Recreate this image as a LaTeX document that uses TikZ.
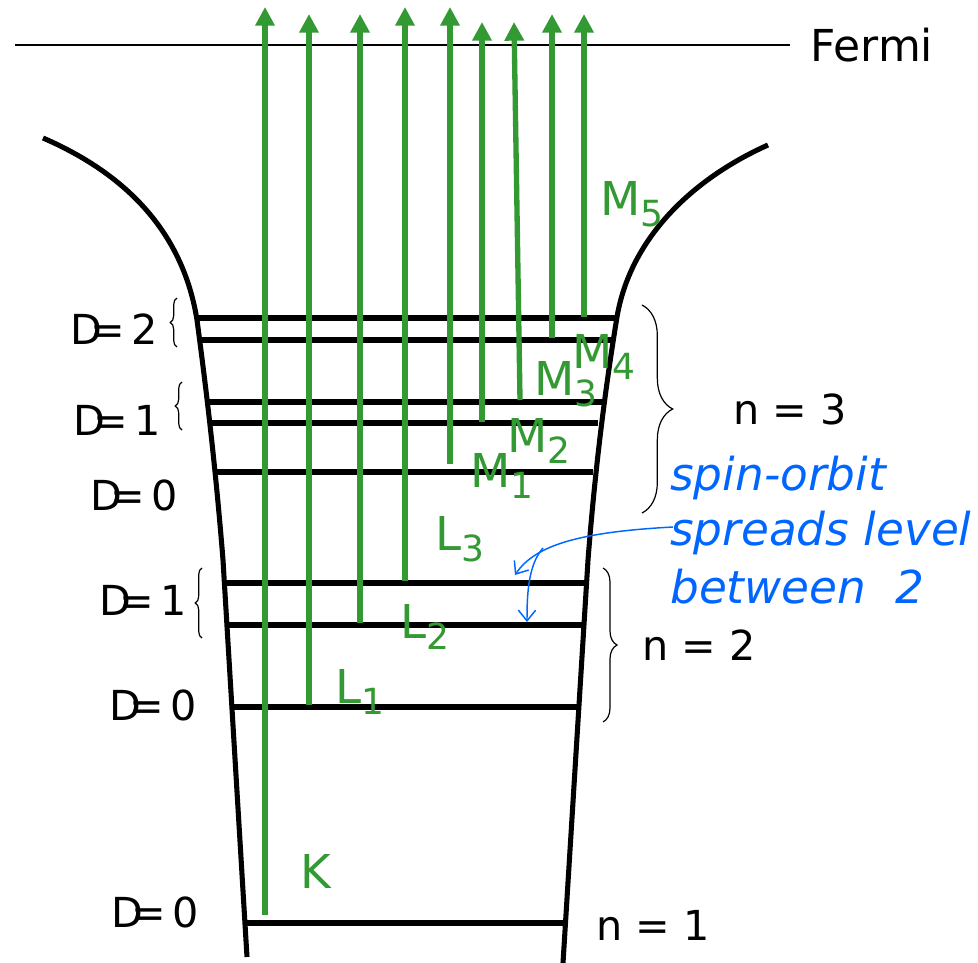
\documentclass[tikz,border=0pt]{standalone}
\usepackage{fontspec}
\setmainfont{DejaVu Sans}
\usetikzlibrary{arrows.meta,decorations.pathreplacing}
\definecolor{grn}{RGB}{51,153,51}
\definecolor{blu}{RGB}{0,102,255}
\newcommand\ellq[1]{D\kern-0.28em=\kern0.14em#1}
\newcommand\gsub[2]{#1\raisebox{-8.4pt}{\fontsize{27}{30}\selectfont #2}}
\begin{document}
\begin{tikzpicture}[x=0.75pt,y=-0.75pt,
  wall/.style={line width=3.8pt},
  level/.style={line width=4pt},
  exc/.style={draw=grn,line width=4pt,-{Triangle[length=14pt,width=14pt]}},
  lbl/.style={font=\fontsize{31}{37}\selectfont,inner sep=0pt},
  glbl/.style={text=grn,font=\fontsize{35}{42}\selectfont,inner sep=0pt,anchor=base west},
  blbl/.style={text=blu,font=\fontsize{34}{43}\selectfont\itshape,inner sep=0pt,anchor=base west},
  bluearr/.style={draw=blu,line width=1.1pt,-{Straight Barb[length=8pt,width=13pt]}},
  brc/.style={decorate,line width=0.9pt}]
\useasboundingbox (0,0) rectangle (978,963);

% Fermi level
\coordinate (f0) at (15,45);
\coordinate (f1) at (790,45);
\draw[line width=1.8pt] (f0) -- (f1);
\node[lbl,font=\fontsize{33}{40}\selectfont] (fermi) at (872,45) {Fermi};

% walls of the well
\draw[wall] (43,138) .. controls (140,180) and (185,245) .. (197,320)
  .. controls (205,380) and (215,460) .. (223,560) -- (247,957);
\draw[wall] (768,145) .. controls (690,180) and (630,240) .. (617,317)
  .. controls (605,390) and (595,470) .. (588,560) -- (563,963);

% levels
\foreach \y/\xl/\xr in {318/197/616, 340/200/611, 402/207/602, 423/210/598,
  472/216/593, 583/225/585, 625/228/582, 707/233/577, 923/245/565}{
  \draw[level] (\xl,\y) -- (\xr,\y);
}

% excitation arrows
\coordinate (k0) at (265,915);  \coordinate (k1) at (265,7);
\coordinate (la0) at (309,705); \coordinate (la1) at (309,14);
\coordinate (lb0) at (360,623); \coordinate (lb1) at (360,14);
\coordinate (lc0) at (405,581); \coordinate (lc1) at (405,7);
\coordinate (ma0) at (450,464); \coordinate (ma1) at (450,7);
\coordinate (mb0) at (482,422); \coordinate (mb1) at (482,22);
\coordinate (mc0) at (520,400); \coordinate (mc1) at (514,22);
\coordinate (md0) at (552,338); \coordinate (md1) at (552,14);
\coordinate (me0) at (584,317); \coordinate (me1) at (584,14);
\foreach \a in {k,la,lb,lc,ma,mb,mc,md,me}{
  \draw[exc] (\a0) -- (\a1);
}

% green labels
\node[glbl] (lk) at (300,888) {K};
\node[glbl] (l1) at (335,703) {\gsub{L}{1}};
\node[glbl] (l2) at (400,638) {\gsub{L}{2}};
\node[glbl] (l3) at (435,550) {\gsub{L}{3}};
\node[glbl] (m1) at (470,487) {\gsub{M}{1}};
\node[glbl] (m2) at (507,452) {\gsub{M}{2}};
\node[glbl] (m3) at (534,395) {\gsub{M}{3}};
\node[glbl] (m4) at (572,368) {\gsub{M}{4}};
\node[glbl] (m5) at (600,215) {\gsub{M}{5}};

% left labels
\node[lbl] (q1) at (114,329) {\ellq{2}};
\node[lbl] (q2) at (117,420) {\ellq{1}};
\node[lbl] (q3) at (134,495) {\ellq{0}};
\node[lbl] (q4) at (143,600) {\ellq{1}};
\node[lbl] (q5) at (153,705) {\ellq{0}};
\node[lbl] (q6) at (155,912) {\ellq{0}};

% small braces on the left
\draw[brc,decoration={brace,amplitude=5pt}] (177,347) -- (177,298);
\draw[brc,decoration={brace,amplitude=5pt}] (182,430) -- (182,382);
\draw[brc,decoration={brace,amplitude=5pt}] (202,638) -- (202,568);

% braces on the right
\draw[brc,decoration={brace,amplitude=23pt}] (642,305) -- (642,513);
\draw[brc,decoration={brace,amplitude=10.5pt}] (603,568) -- (603,722);

\node[lbl] (n3) at (790,409) {n = 3};
\node[lbl] (n2) at (699,645) {n = 2};
\node[lbl] (n1) at (653,925) {n = 1};

% spin-orbit note
\node[blbl] (so1) at (670,490) {spin-orbit};
\node[blbl] (so2) at (670,545) {spreads level};
\node[blbl] (so3) at (670,603) {between\ \ 2};

\coordinate (bs) at (673,527);
\coordinate (bt1) at (515,575);
\coordinate (bb) at (543,548);
\coordinate (bt2) at (527,622);
\draw[bluearr] (bs) .. controls (580,532) and (535,545) .. (bt1);
\draw[bluearr] (bb) .. controls (528,565) and (527,595) .. (bt2);
\end{tikzpicture}
\end{document}
